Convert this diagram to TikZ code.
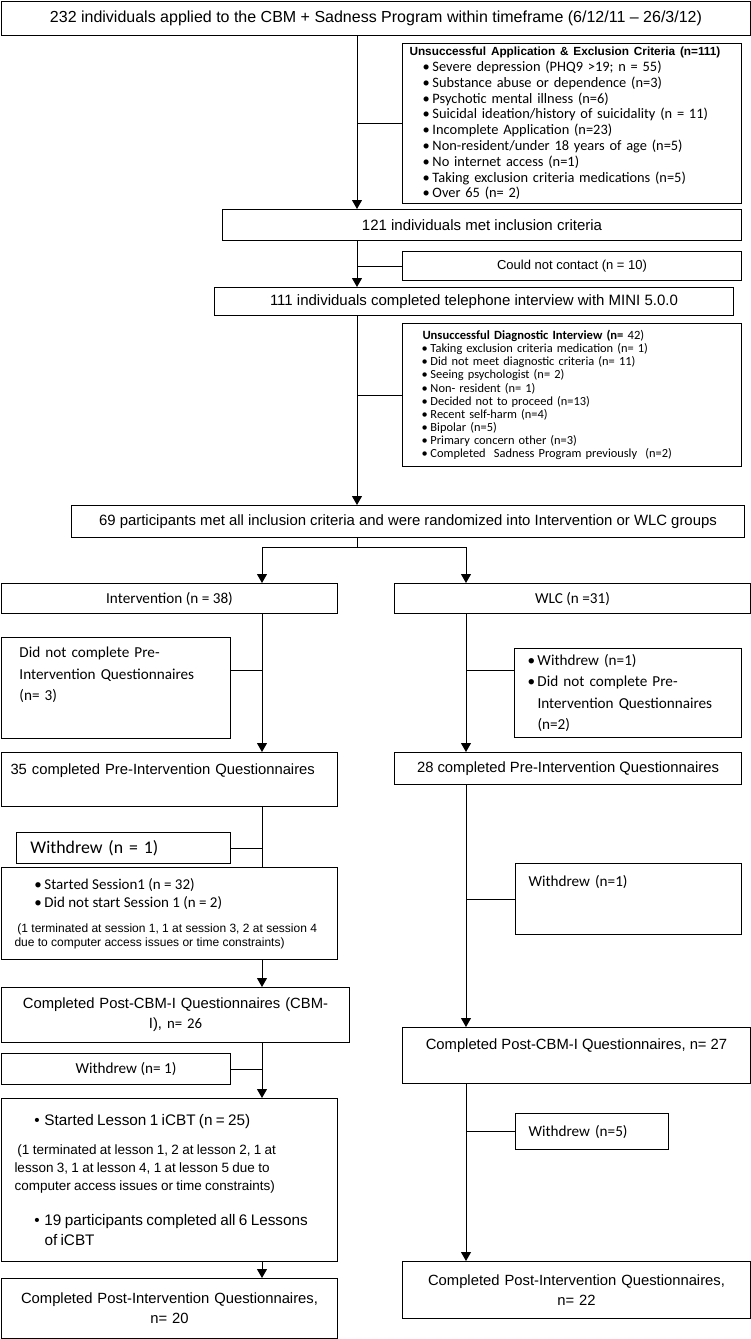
\documentclass[tikz,border=0pt]{standalone}
\usepackage{fontspec}
\setmainfont{Liberation Sans}
\newfontfamily\carlito{Carlito}
\usetikzlibrary{arrows.meta}

\newcommand{\itemdot}[1][10pt]{\makebox[#1][l]{\textbullet}}

\tikzset{
  box/.style={draw, line width=1pt, anchor=north west, inner sep=0pt},
  link/.style={line width=1pt},
  arr/.style={link, -{Triangle[length=9pt,width=10pt]}},
  arialtxt/.style={font=\fontsize{14.8}{20}\selectfont},
  caltxt/.style={font=\carlito\fontsize{15.2}{21.5}\selectfont},
}

\begin{document}
\begin{tikzpicture}[x=1pt, y=-1pt]
    \useasboundingbox (0,0) rectangle (751,1339);

    % screening
    \node[box, minimum width=749pt, minimum height=34pt, font=\fontsize{16}{19}\selectfont] (apply) at (1,0.5)
        {232 individuals applied to the CBM + Sadness Program within timeframe (6/12/11 – 26/3/12)};

    \node[box, minimum width=339pt, minimum height=160pt, text width=333pt, align=left,
          font=\carlito\fontsize{14.4}{15.8}\selectfont] (excla) at (402,43) {%
        \hspace*{4pt}{\rmfamily\bfseries\fontsize{11.8}{15}\selectfont Unsuccessful Application \& Exclusion Criteria (n=111)\par}
        \hspace*{17pt}\itemdot Severe depression (PHQ9 >19; n = 55)\\
        \hspace*{17pt}\itemdot Substance abuse or dependence (n=3)\\
        \hspace*{17pt}\itemdot Psychotic mental illness (n=6)\\
        \hspace*{17pt}\itemdot Suicidal ideation/history of suicidality (n = 11)\\
        \hspace*{17pt}\itemdot Incomplete Application (n=23)\\
        \hspace*{17pt}\itemdot Non-resident/under 18 years of age (n=5)\\
        \hspace*{17pt}\itemdot No internet access (n=1)\\
        \hspace*{17pt}\itemdot Taking exclusion criteria medications (n=5)\\
        \hspace*{17pt}\itemdot Over 65 (n= 2)};

    \node[box, minimum width=519pt, minimum height=31pt, font=\fontsize{15}{18}\selectfont] (met) at (222,209)
        {121 individuals met inclusion criteria};
    \node[box, minimum width=339pt, minimum height=29pt, font=\fontsize{13}{16}\selectfont] (nocontact) at (402,251)
        {Could not contact (n = 10)};
    \node[box, minimum width=519pt, minimum height=28pt, font=\fontsize{15}{18}\selectfont] (mini) at (214,287)
        {111 individuals completed telephone interview with MINI 5.0.0};

    \node[box, minimum width=339pt, minimum height=143pt, text width=333pt, align=left,
          font=\carlito\fontsize{12.4}{13.1}\selectfont] (exclb) at (402,323) {%
        \hspace*{17pt}{\bfseries\fontsize{12.6}{15}\selectfont Unsuccessful Diagnostic Interview (n= \mdseries 42)\par}
        \hspace*{16pt}\itemdot[9pt]Taking exclusion criteria medication (n= 1)\\
        \hspace*{16pt}\itemdot[9pt]Did not meet diagnostic criteria (n= 11)\\
        \hspace*{16pt}\itemdot[9pt]Seeing psychologist (n= 2)\\
        \hspace*{16pt}\itemdot[9pt]Non- resident (n= 1)\\
        \hspace*{16pt}\itemdot[9pt]Decided not to proceed (n=13)\\
        \hspace*{16pt}\itemdot[9pt]Recent self-harm (n=4)\\
        \hspace*{16pt}\itemdot[9pt]Bipolar (n=5)\\
        \hspace*{16pt}\itemdot[9pt]Primary concern other (n=3)\\
        \hspace*{16pt}\itemdot[9pt]Completed~ Sadness Program previously~ (n=2)};

    \node[box, minimum width=673pt, minimum height=32pt, font=\fontsize{14.9}{18}\selectfont] (random) at (71,505)
        {69 participants met all inclusion criteria and were randomized into Intervention or WLC groups};

    \coordinate (trunk) at (357,0);
    \coordinate (fork) at (357,547);
    \coordinate (leftcol) at (262,0);
    \coordinate (rightcol) at (466,0);

    \draw[arr] (apply.south -| trunk) -- (met.north -| trunk);
    \draw[link] (excla.west) -- (excla.west -| trunk);
    \draw[arr] (met.south -| trunk) -- (mini.north -| trunk);
    \draw[link] (nocontact.west) -- (nocontact.west -| trunk);
    \draw[arr] (mini.south -| trunk) -- (random.north -| trunk);
    \draw[link] (exclb.west) -- (exclb.west -| trunk);

    % groups
    \node[box, minimum width=336pt, minimum height=30pt, caltxt] (interv) at (1,583) {Intervention (n = 38)};
    \node[box, minimum width=356pt, minimum height=30pt, caltxt] (wlc) at (394,583) {WLC (n =31)};

    \draw[link] (random.south -| trunk) -- (fork);
    \draw[arr] (fork) -| (interv.north -| leftcol);
    \draw[arr] (fork) -| (wlc.north -| rightcol);

    % intervention arm
    \node[box, minimum width=229pt, minimum height=101pt, text width=193pt, align=left, caltxt] (noq) at (1,637)
        {Did not complete Pre-\\Intervention Questionnaires\\(n= 3)\\ \strut};
    \node[box, minimum width=336pt, minimum height=54pt, text width=318pt, align=left, arialtxt,
          text height=22pt, text depth=32pt] (pre35) at (1,752)
        {35 completed Pre-Intervention Questionnaires};
    \node[box, minimum width=214pt, minimum height=31pt, text width=186pt, align=left,
          font=\carlito\fontsize{17.8}{22}\selectfont] (wdone) at (16,832) {Withdrew (n = 1)};
    \node[box, minimum width=336pt, minimum height=92pt, text width=330pt, align=left] (sess) at (1,867) {%
        {\carlito\fontsize{15}{18}\selectfont
        \hspace*{30pt}\itemdot Started Session1 (n = 32)\\
        \hspace*{30pt}\itemdot Did not start Session 1 (n = 2)\par}
        \vspace{11pt}
        {\fontsize{12}{14}\selectfont
        \hspace*{13pt}(1 terminated at session 1, 1 at session 3, 2 at session 4\\
        \hspace*{10pt}due to computer access issues or time constraints)\par}};
    \node[box, minimum width=348pt, minimum height=55pt, text width=340pt, align=center, arialtxt] (cbmleft) at (1,987)
        {Completed Post-CBM-I Questionnaires (CBM-\\I), {\carlito n= 26}};
    \node[box, minimum width=229pt, minimum height=31pt, align=center, caltxt] (wdtwo) at (1,1053)
        {\hspace*{20pt}Withdrew (n= 1)};
    \node[box, minimum width=336pt, minimum height=163pt, text width=330pt, align=left] (lesson) at (1,1098) {%
        {\fontsize{15.3}{18}\selectfont
        \hspace*{30pt}\itemdot Started Lesson 1 iCBT (n = 25)\par}
        \vspace{11pt}
        {\fontsize{13.5}{18}\selectfont
        \hspace*{13pt}(1 terminated at lesson 1, 2 at lesson 2, 1 at\\
        \hspace*{10pt}lesson 3, 1 at lesson 4, 1 at lesson 5 due to\\
        \hspace*{10pt}computer access issues or time constraints)\par}
        \vspace{15pt}
        {\fontsize{15.3}{20}\selectfont
        \hspace*{30pt}\itemdot 19 participants completed all 6 Lessons\\
        \hspace*{40pt}of iCBT\par}};
    \node[box, minimum width=336pt, minimum height=60pt, text width=330pt, align=center, arialtxt] (postleft) at (1,1278)
        {Completed Post-Intervention Questionnaires,\\n= 20};

    \draw[arr] (interv.south -| leftcol) -- (pre35.north -| leftcol);
    \draw[link] ([yshift=18pt]noq.east) -- ([yshift=18pt]noq.east -| leftcol);
    \draw[link] (pre35.south -| leftcol) -- (sess.north -| leftcol);
    \draw[link] (wdone.east) -- (wdone.east -| leftcol);
    \draw[arr] (sess.south -| leftcol) -- (cbmleft.north -| leftcol);
    \draw[arr] (cbmleft.south -| leftcol) -- (lesson.north -| leftcol);
    \draw[link] (wdtwo.east) -- (wdtwo.east -| leftcol);
    \draw[arr] (lesson.south -| leftcol) -- (postleft.north -| leftcol);

    % waiting list arm
    \node[box, minimum width=227pt, minimum height=89pt, text width=221pt, align=left, caltxt] (wlcex) at (514,648)
        {\hspace*{10pt}\itemdot Withdrew (n=1)\\
         \hspace*{10pt}\itemdot Did not complete Pre-\\
         \hspace*{20pt}Intervention Questionnaires\\
         \hspace*{20pt}(n=2)};
    \node[box, minimum width=347pt, minimum height=32pt, arialtxt] (pre28) at (394,752)
        {28 completed Pre-Intervention Questionnaires};
    \node[box, minimum width=226pt, minimum height=71pt, text width=200pt, align=left, caltxt,
          text height=23pt, text depth=48pt] (wdthree) at (515,863) {Withdrew (n=1)};
    \node[box, minimum width=348pt, minimum height=56pt, arialtxt,
          text height=22pt, text depth=34pt] (cbmright) at (402,1027)
        {Completed Post-CBM-I Questionnaires, n= 27};
    \node[box, minimum width=153pt, minimum height=36pt, text width=127pt, align=left, caltxt] (wdfive) at (515,1113)
        {Withdrew (n=5)};
    \node[box, minimum width=348pt, minimum height=57pt, text width=340pt, align=center, arialtxt] (postright) at (402,1261)
        {Completed Post-Intervention Questionnaires,\\n= 22};

    \draw[arr] (wlc.south -| rightcol) -- (pre28.north -| rightcol);
    \draw[link] ([yshift=23pt]wlcex.west) -- ([yshift=23pt]wlcex.west -| rightcol);
    \draw[arr] (pre28.south -| rightcol) -- (cbmright.north -| rightcol);
    \draw[link] (wdthree.west) -- (wdthree.west -| rightcol);
    \draw[arr] (cbmright.south -| rightcol) -- (postright.north -| rightcol);
    \draw[link] (wdfive.west) -- (wdfive.west -| rightcol);
\end{tikzpicture}
\end{document}
